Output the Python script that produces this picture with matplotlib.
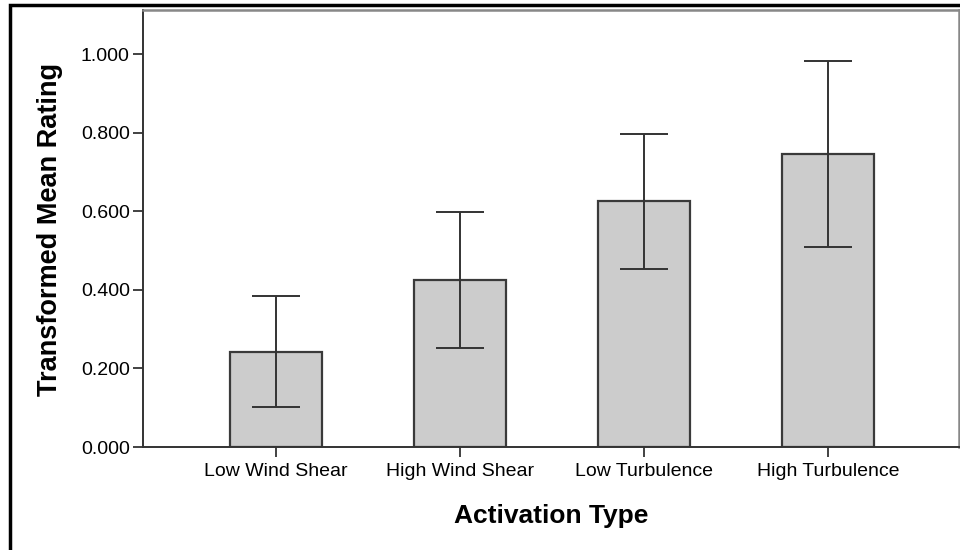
import matplotlib.pyplot as plt
from matplotlib.patches import Rectangle

categories = ["Low Wind Shear", "High Wind Shear", "Low Turbulence", "High Turbulence"]
means = [0.242, 0.425, 0.627, 0.746]
ci_low = [0.102, 0.252, 0.453, 0.510]
ci_high = [0.385, 0.599, 0.797, 0.983]
yticks = [0.0, 0.2, 0.4, 0.6, 0.8, 1.0]

W, H = 960, 550
fig = plt.figure(figsize=(9.6, 5.5), dpi=100)
ax = fig.add_axes([143 / W, 1 - 447 / H, (959 - 143) / W, (447 - 10) / H])

x = list(range(len(categories)))
ax.bar(x, means, width=0.5, color="#cccccc", edgecolor="#3a3a3a", linewidth=1.6, zorder=2)

err = [[m - lo for m, lo in zip(means, ci_low)], [hi - m for m, hi in zip(means, ci_high)]]
ax.errorbar(x, means, yerr=err, fmt="none", ecolor="#333333", elinewidth=1.4,
            capsize=17, capthick=1.4, zorder=3)

ax.set_xlim(-0.723, 3.712)
ax.set_ylim(0, 1.113)
ax.set_xticks(x)
ax.set_xticklabels(categories, fontsize=14, family="Liberation Sans")
ax.set_yticks(yticks)
ax.set_yticklabels(["%.3f" % v for v in yticks], fontsize=14, family="Liberation Sans")
ax.tick_params(axis="both", length=7.5, width=1.3, color="#333333", pad=2)
ax.tick_params(axis="x", pad=4)

for side in ["left", "bottom"]:
    ax.spines[side].set_color("#333333")
    ax.spines[side].set_linewidth(1.4)
for side in ["top", "right"]:
    ax.spines[side].set_color("#888888")
    ax.spines[side].set_linewidth(1.8)

fig.text(50 / W, 1 - 229 / H, "Transformed Mean Rating", rotation=90, ha="center", va="center",
         fontsize=19.5, fontweight="bold", family="Liberation Sans")
fig.text(551 / W, 1 - 516 / H, "Activation Type", ha="center", va="center",
         fontsize=19, fontweight="bold", family="Liberation Sans")

# outer frame, cut off on the right and bottom
fig.patches.append(Rectangle((10 / W, -0.1), 1.2, 1 - 5 / H + 0.1, transform=fig.transFigure,
                             fill=False, edgecolor="black", linewidth=2.5))

fig.savefig("out.png", dpi=100, facecolor="white")
